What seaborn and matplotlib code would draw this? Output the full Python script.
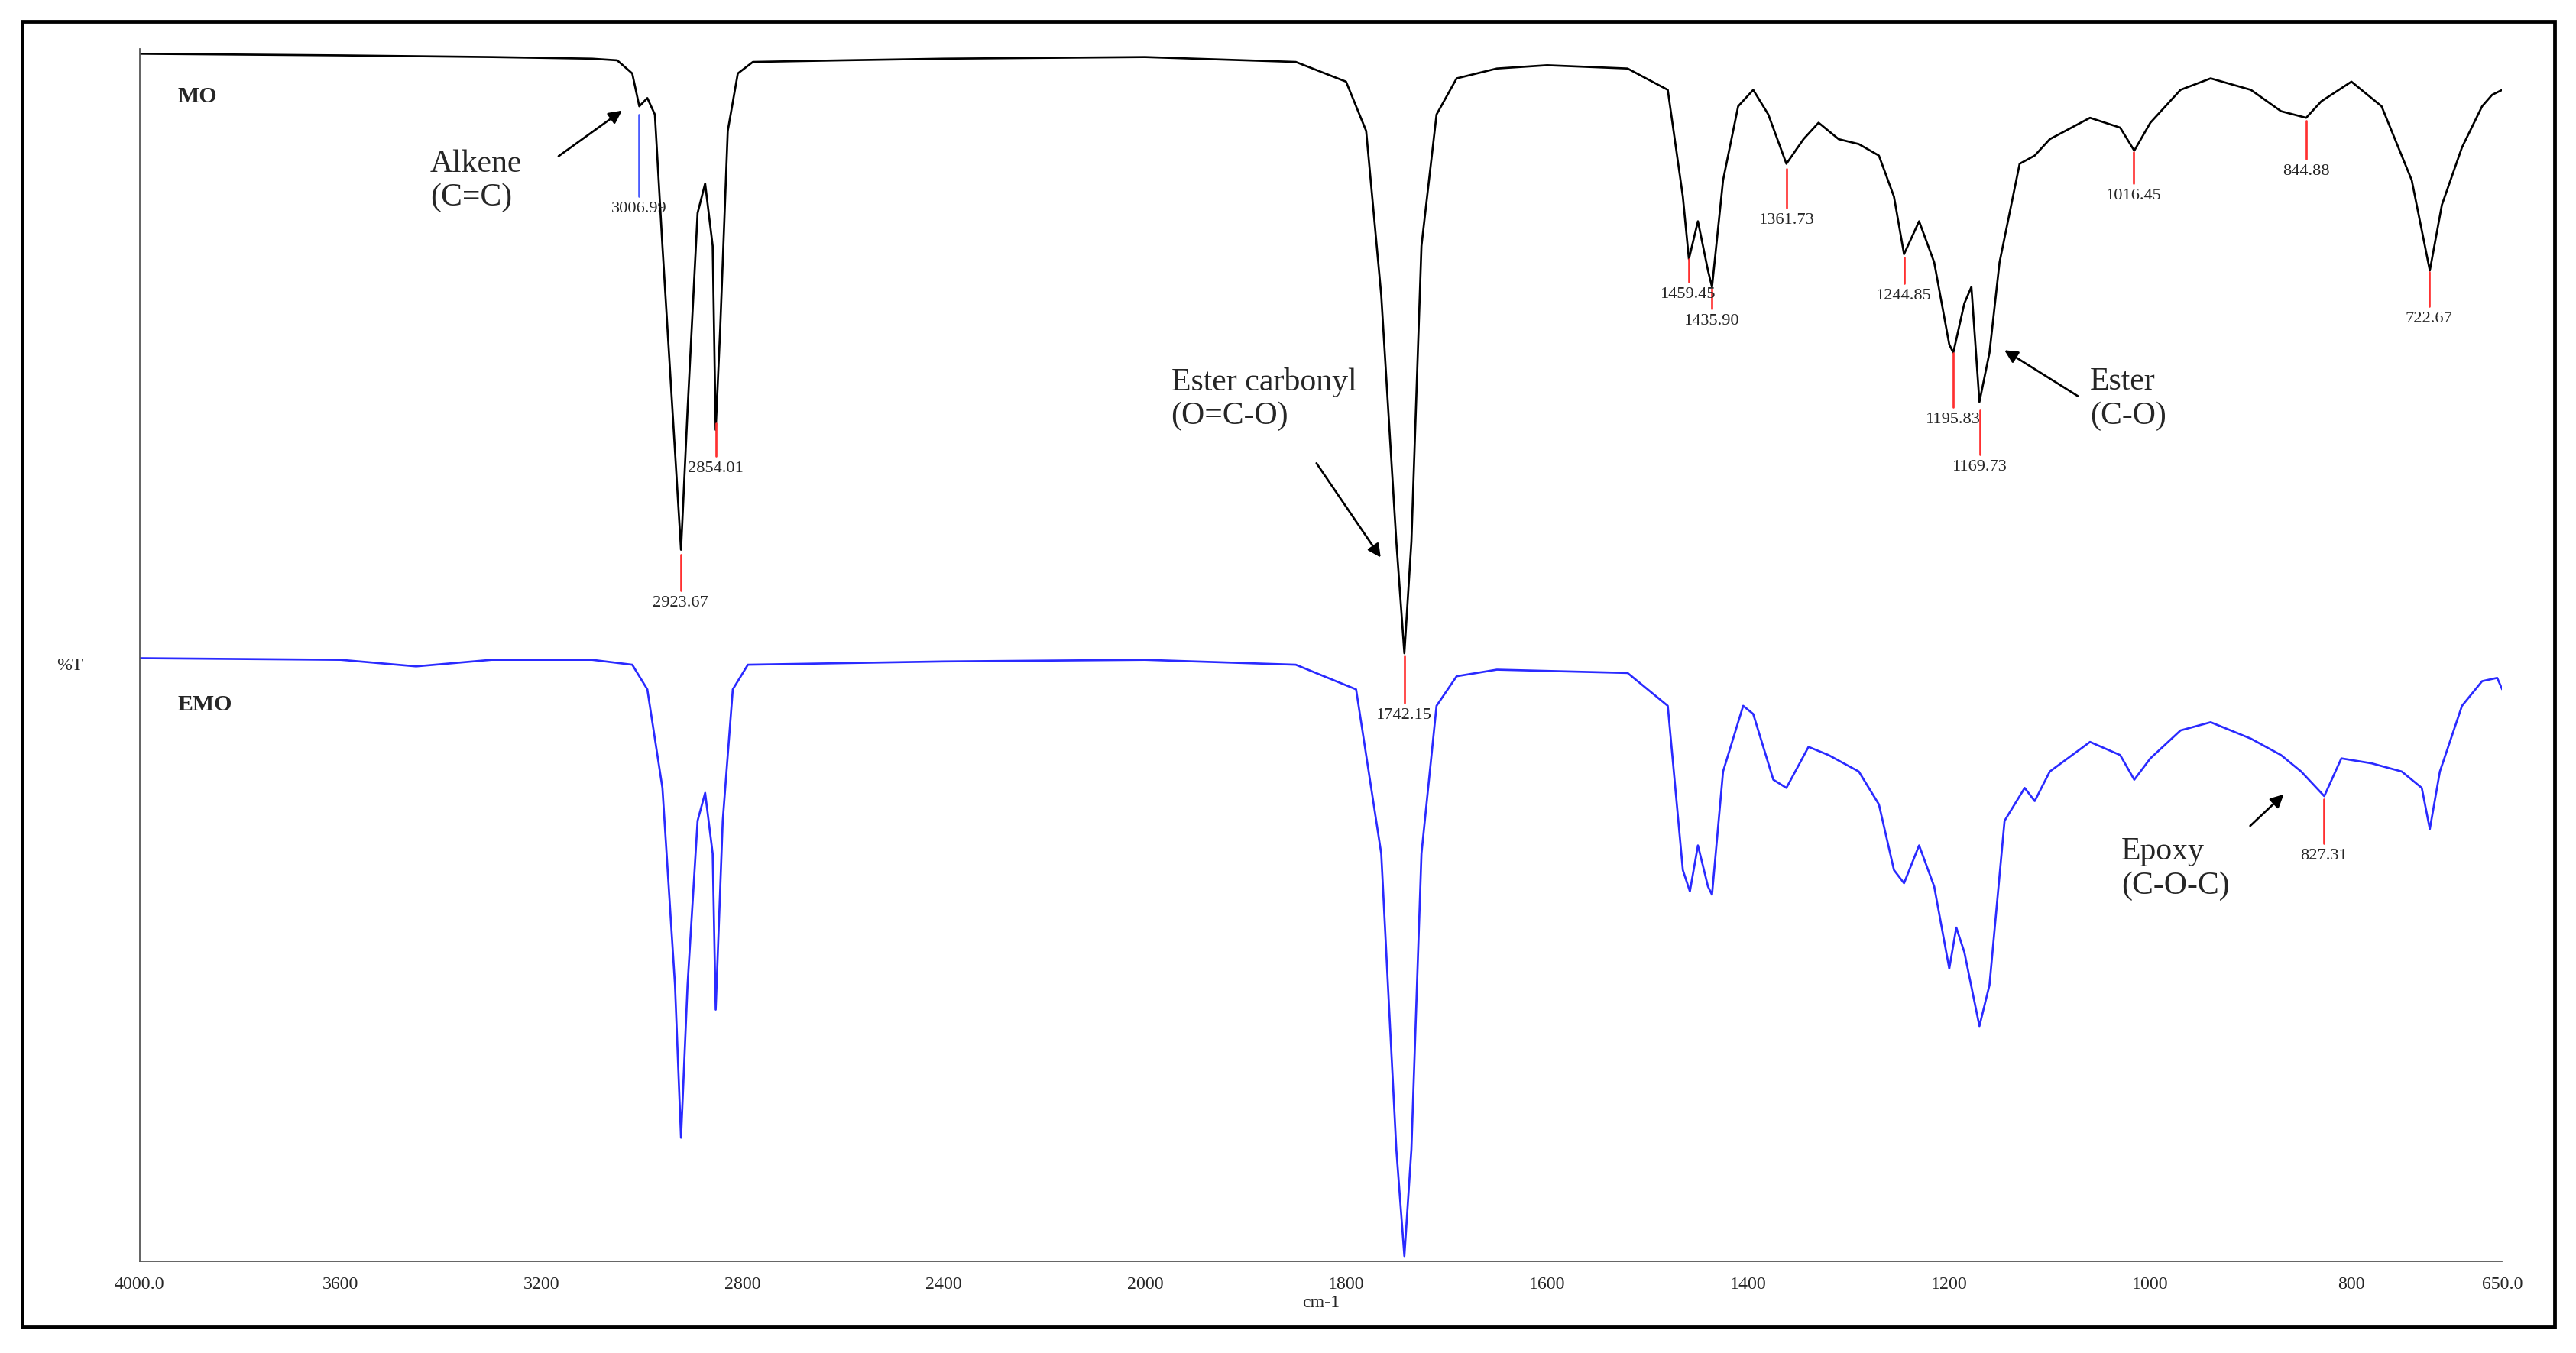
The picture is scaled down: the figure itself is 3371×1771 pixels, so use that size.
import numpy as np
import pandas as pd
import matplotlib
matplotlib.use("Agg")
import matplotlib.pyplot as plt
from matplotlib.patches import Rectangle
import seaborn as sns

sns.set_style("white")
plt.rcParams['font.family'] = ['Liberation Serif', 'DejaVu Serif']

# MO spectrum (wavenumber, plotted level; axis runs 768 bottom .. 30 top)
mo_wn = [4000, 3600, 3300, 3100, 3050, 3020, 3006, 2990, 2975, 2960, 2940, 2923, 2910, 2890, 2875,
         2860, 2854, 2845, 2830, 2810, 2780, 2600, 2400, 2000, 1850, 1800, 1780, 1765, 1750, 1742,
         1735, 1725, 1710, 1690, 1650, 1600, 1520, 1480, 1465, 1459, 1450, 1440, 1436, 1425, 1410,
         1395, 1380, 1362, 1345, 1330, 1310, 1290, 1270, 1255, 1245, 1230, 1215, 1200, 1196, 1185,
         1178, 1170, 1160, 1150, 1130, 1115, 1100, 1060, 1030, 1016, 1000, 970, 940, 900, 870, 845,
         830, 800, 770, 740, 722, 710, 690, 670, 660, 650]
mo_y = [33, 34, 35, 36, 37, 45, 65, 60, 70, 150, 250, 335, 250, 130, 112,
        150, 262, 200, 80, 45, 38, 37, 36, 35, 38, 50, 80, 180, 330, 398,
        330, 150, 70, 48, 42, 40, 42, 55, 120, 158, 135, 165, 175, 110, 65,
        55, 70, 100, 85, 75, 85, 88, 95, 120, 155, 135, 160, 210, 215, 185,
        175, 245, 215, 160, 100, 95, 85, 72, 78, 92, 75, 55, 48, 55, 68, 72,
        62, 50, 65, 110, 165, 125, 90, 65, 58, 55]

emo_wn = [4000, 3600, 3450, 3300, 3100, 3020, 2990, 2960, 2935, 2923, 2910, 2890, 2875, 2860, 2854,
          2840, 2820, 2790, 2400, 2000, 1850, 1790, 1765, 1750, 1742, 1735, 1725, 1710, 1690, 1650,
          1520, 1480, 1465, 1458, 1450, 1440, 1436, 1425, 1405, 1395, 1375, 1362, 1340, 1320, 1290,
          1270, 1255, 1245, 1230, 1215, 1200, 1193, 1185, 1170, 1160, 1145, 1125, 1115, 1100, 1060,
          1030, 1016, 1000, 970, 940, 900, 870, 850, 827, 810, 780, 750, 730, 722, 712, 690, 670,
          655, 650]
emo_y = [401, 402, 406, 402, 402, 405, 420, 480, 600, 693, 600, 500, 483, 520, 615,
         500, 420, 405, 403, 402, 405, 420, 520, 700, 765, 700, 520, 430, 412, 408,
         410, 430, 530, 543, 515, 540, 545, 470, 430, 435, 475, 480, 455, 460, 470,
         490, 530, 538, 515, 540, 590, 565, 580, 625, 600, 500, 480, 488, 470, 452,
         460, 475, 462, 445, 440, 450, 460, 470, 485, 462, 465, 470, 480, 505, 470, 430, 415,
         413, 420]

# peak labels: wavenumber, line top, line bottom, label, colour
pk_wn = [3006.99, 2923.67, 2854.01, 1742.15, 1459.45, 1435.90, 1361.73, 1244.85, 1195.83,
         1169.73, 1016.45, 844.88, 722.67, 827.31]
pk_top = [70, 338, 258, 400, 158, 176, 103, 157, 215, 250, 93, 74, 166, 487]
pk_bot = [120, 360, 278, 428, 172, 188, 127, 173, 248, 277, 112, 97, 187, 514]
pk_col = ['#4a5cff'] + ['#ff3030'] * 13


def fwd(w):
    w = np.asarray(w, dtype=float)
    return np.where(w >= 2000, w / 2 + 1000, w)


def inv(t):
    t = np.asarray(t, dtype=float)
    return np.where(t >= 2000, (t - 1000) * 2, t)


fig = plt.figure(figsize=(15.68, 8.24), dpi=215)
fig.patches.append(Rectangle((0.0085, 0.019), 0.983, 0.965, transform=fig.transFigure,
                             fill=False, lw=1.6, ec='black'))
ax = fig.add_axes([0.0542, 0.068, 0.9171, 0.8956])

df_mo = pd.DataFrame({'wn': mo_wn, 'y': mo_y})
df_emo = pd.DataFrame({'wn': emo_wn, 'y': emo_y})
sns.lineplot(data=df_mo, x='wn', y='y', ax=ax, color='black', lw=0.9, sort=False)
sns.lineplot(data=df_emo, x='wn', y='y', ax=ax, color='#2a2aff', lw=0.9, sort=False)

ax.set_xscale('function', functions=(fwd, inv))
ax.set_xlim(4000, 650)
ax.set_ylim(768, 30)
xt = [4000, 3600, 3200, 2800, 2400, 2000, 1800, 1600, 1400, 1200, 1000, 800, 650]
ax.set_xticks(xt)
ax.set_xticklabels(['4000.0'] + [str(v) for v in xt[1:-1]] + ['650.0'], fontsize=8)
ax.set_yticks(np.linspace(30, 768, 19))
ax.set_yticklabels([])
ax.tick_params(axis='both', direction='out', length=3, width=0.6, color='#555555')
for s in ['top', 'right']:
    ax.spines[s].set_visible(False)
for s in ['left', 'bottom']:
    ax.spines[s].set_linewidth(0.6)
    ax.spines[s].set_color('#555555')
ax.set_xlabel('cm-1', fontsize=8, labelpad=1)
ax.set_ylabel('')
fig.text(0.022, 0.508, '%T', fontsize=8, va='center')

for w, t, b, c in zip(pk_wn, pk_top, pk_bot, pk_col):
    ax.plot([w, w], [t, b], color=c, lw=0.9)
    ax.text(w, b + 3, f'{w:.2f}', fontsize=7.5, ha='center', va='top')

ax.text(3925, 59, 'MO', fontsize=10, fontweight='bold', va='center')
ax.text(3925, 429, 'EMO', fontsize=10, fontweight='bold', va='center')

big = dict(fontsize=14, va='center', ha='left', linespacing=1.2)
arr = dict(arrowstyle='-|>', color='black', lw=0.9, mutation_scale=12)
ax.text(3422, 110, 'Alkene\n(C=C)', **big)
ax.annotate('', xy=(3033, 66), xytext=(3174, 97), arrowprops=arr)
ax.text(1974, 243, 'Ester carbonyl\n(O=C-O)', **big)
ax.annotate('', xy=(1763, 342), xytext=(1832, 280), arrowprops=arr)
ax.text(1060, 243, 'Ester\n(C-O)', **big)
ax.annotate('', xy=(1149, 212), xytext=(1068, 243), arrowprops=arr)
ax.text(1029, 529, 'Epoxy\n(C-O-C)', **big)
ax.annotate('', xy=(864, 482), xytext=(904, 505), arrowprops=arr)

fig.savefig('out.png', dpi=215)
